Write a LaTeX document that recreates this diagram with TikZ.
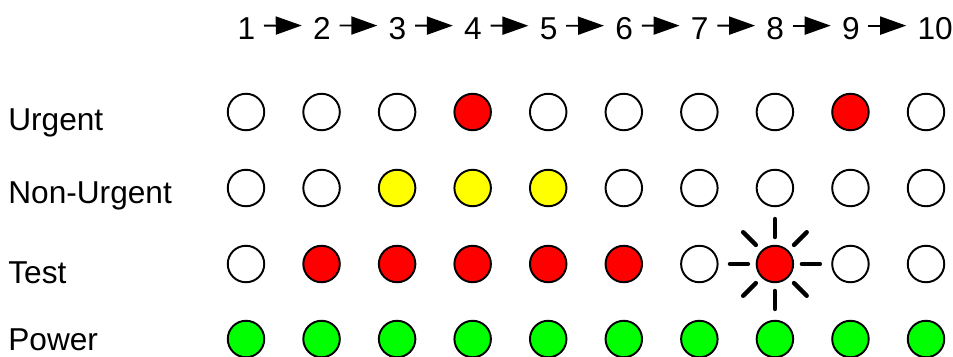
\documentclass[tikz,border=0pt]{standalone}
\usepackage{fontspec}
\setmainfont{Liberation Sans}
\usetikzlibrary{arrows.meta}

\definecolor{lampred}{HTML}{FF0000}
\definecolor{lampyellow}{HTML}{FFFF00}
\definecolor{lampgreen}{HTML}{00FF00}

\begin{document}
\begin{tikzpicture}[
  x=1cm, y=1cm,
  every node/.style={inner sep=0pt},
  lamp/.style={circle, draw=black, fill=white, minimum size=7.3mm,
               line width=1.1pt},
  lred/.style={lamp, fill=lampred},
  lyel/.style={lamp, fill=lampyellow},
  lgrn/.style={lamp, fill=lampgreen},
  num/.style={anchor=base west, font=\fontsize{18}{21}\selectfont},
  lbl/.style={anchor=base west, font=\fontsize{18}{21}\selectfont},
  adv/.style={-{Triangle[length=5.2mm, width=3.6mm]}, line width=1.1pt,
              shorten <=1.7mm, shorten >=2.2mm},
  ray/.style={line width=2.5pt, line cap=round},
]
  \useasboundingbox (0,0) rectangle (19.06,7.12);
  % step numbers
  \node[num] (num1) at (4.744,6.340) {1};
  \node[num] (num2) at (6.255,6.340) {2};
  \node[num] (num3) at (7.766,6.340) {3};
  \node[num] (num4) at (9.277,6.340) {4};
  \node[num] (num5) at (10.788,6.340) {5};
  \node[num] (num6) at (12.300,6.340) {6};
  \node[num] (num7) at (13.811,6.340) {7};
  \node[num] (num8) at (15.322,6.340) {8};
  \node[num] (num9) at (16.833,6.340) {9};
  \node[num] (num10) at (18.344,6.340) {10};
  \draw[adv] ([yshift=0.5mm]num1.east) -- ([yshift=0.5mm]num2.west);
  \draw[adv] ([yshift=0.5mm]num2.east) -- ([yshift=0.5mm]num3.west);
  \draw[adv] ([yshift=0.5mm]num3.east) -- ([yshift=0.5mm]num4.west);
  \draw[adv] ([yshift=0.5mm]num4.east) -- ([yshift=0.5mm]num5.west);
  \draw[adv] ([yshift=0.5mm]num5.east) -- ([yshift=0.5mm]num6.west);
  \draw[adv] ([yshift=0.5mm]num6.east) -- ([yshift=0.5mm]num7.west);
  \draw[adv] ([yshift=0.5mm]num7.east) -- ([yshift=0.5mm]num8.west);
  \draw[adv] ([yshift=0.5mm]num8.east) -- ([yshift=0.5mm]num9.west);
  \draw[adv] ([yshift=0.5mm]num9.east) -- ([yshift=0.5mm]num10.west);
  % row labels
  \node[lbl] (lurg) at (0.160,4.520) {Urgent};
  \node[lbl] (lnon) at (0.160,3.060) {Non-Urgent};
  \node[lbl] (ltest) at (0.160,1.460) {Test};
  \node[lbl] (lpow) at (0.160,0.120) {Power};
  % urgent
  \node[lamp] (urg1) at (4.920,4.880) {};
  \node[lamp] (urg2) at (6.431,4.880) {};
  \node[lamp] (urg3) at (7.942,4.880) {};
  \node[lred] (urg4) at (9.453,4.880) {};
  \node[lamp] (urg5) at (10.964,4.880) {};
  \node[lamp] (urg6) at (12.476,4.880) {};
  \node[lamp] (urg7) at (13.987,4.880) {};
  \node[lamp] (urg8) at (15.498,4.880) {};
  \node[lred] (urg9) at (17.009,4.880) {};
  \node[lamp] (urg10) at (18.520,4.880) {};
  % non-urgent
  \node[lamp] (non1) at (4.920,3.360) {};
  \node[lamp] (non2) at (6.431,3.360) {};
  \node[lyel] (non3) at (7.942,3.360) {};
  \node[lyel] (non4) at (9.453,3.360) {};
  \node[lyel] (non5) at (10.964,3.360) {};
  \node[lamp] (non6) at (12.476,3.360) {};
  \node[lamp] (non7) at (13.987,3.360) {};
  \node[lamp] (non8) at (15.498,3.360) {};
  \node[lamp] (non9) at (17.009,3.360) {};
  \node[lamp] (non10) at (18.520,3.360) {};
  % test
  \node[lamp] (test1) at (4.920,1.840) {};
  \node[lred] (test2) at (6.431,1.840) {};
  \node[lred] (test3) at (7.942,1.840) {};
  \node[lred] (test4) at (9.453,1.840) {};
  \node[lred] (test5) at (10.964,1.840) {};
  \node[lred] (test6) at (12.476,1.840) {};
  \node[lamp] (test7) at (13.987,1.840) {};
  \node[lred] (test8) at (15.498,1.840) {};
  \node[lamp] (test9) at (17.009,1.840) {};
  \node[lamp] (test10) at (18.520,1.840) {};
  % flashing test lamp
  \draw[ray] ([shift={(0:0.155)}]test8.0) -- ([shift={(0:0.515)}]test8.0);
  \draw[ray] ([shift={(45:0.155)}]test8.45) -- ([shift={(45:0.515)}]test8.45);
  \draw[ray] ([shift={(90:0.155)}]test8.90) -- ([shift={(90:0.515)}]test8.90);
  \draw[ray] ([shift={(135:0.155)}]test8.135) -- ([shift={(135:0.515)}]test8.135);
  \draw[ray] ([shift={(180:0.155)}]test8.180) -- ([shift={(180:0.515)}]test8.180);
  \draw[ray] ([shift={(225:0.155)}]test8.225) -- ([shift={(225:0.515)}]test8.225);
  \draw[ray] ([shift={(270:0.155)}]test8.270) -- ([shift={(270:0.515)}]test8.270);
  \draw[ray] ([shift={(315:0.155)}]test8.315) -- ([shift={(315:0.515)}]test8.315);
  % power
  \node[lgrn] (pow1) at (4.920,0.340) {};
  \node[lgrn] (pow2) at (6.431,0.340) {};
  \node[lgrn] (pow3) at (7.942,0.340) {};
  \node[lgrn] (pow4) at (9.453,0.340) {};
  \node[lgrn] (pow5) at (10.964,0.340) {};
  \node[lgrn] (pow6) at (12.476,0.340) {};
  \node[lgrn] (pow7) at (13.987,0.340) {};
  \node[lgrn] (pow8) at (15.498,0.340) {};
  \node[lgrn] (pow9) at (17.009,0.340) {};
  \node[lgrn] (pow10) at (18.520,0.340) {};
\end{tikzpicture}
\end{document}
